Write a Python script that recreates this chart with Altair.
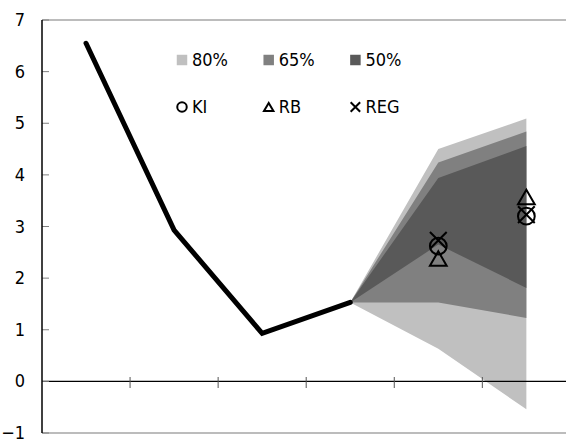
import altair as alt
import pandas as pd

# Observed series
periods = [0, 1, 2, 3]
actual = [6.55, 2.93, 0.93, 1.53]

# Forecast fan (starts at the last observed value)
fan_x = [3, 4, 5]
lo80 = [1.53, 0.63, -0.54]
hi80 = [1.53, 4.50, 5.09]
lo65 = [1.53, 1.53, 1.23]
hi65 = [1.53, 4.24, 4.84]
lo50 = [1.53, 2.65, 1.81]
hi50 = [1.53, 3.94, 4.56]

# Point forecasts from the three models
model_x = [4, 5]
ki = [2.62, 3.20]
rb = [2.38, 3.57]
reg = [2.73, 3.23]

# Horizontal axis tick positions (between periods) and vertical axis values
x_ticks = [0.5, 1.5, 2.5, 3.5, 4.5]
y_ticks = [-1, 0, 1, 2, 3, 4, 5, 6, 7]

band_labels = ["80%", "65%", "50%"]
band_colors = ["#c0c0c0", "#808080", "#595959"]
model_labels = ["KI", "RB", "REG"]
X_SHAPE = "M-1,-1L1,1M1,-1L-1,1"
model_shapes = ["circle", "triangle-up", X_SHAPE]

FONT = "DejaVu Sans Condensed, Liberation Sans Narrow, Liberation Sans, sans-serif"
FS = 18
W, H = 524, 413

xs = alt.Scale(domain=[-0.5, 5.45], nice=False, zero=False)
ys = alt.Scale(domain=[-1, 7], nice=False, zero=False)

X = lambda f: alt.X(f, type="quantitative", scale=xs, axis=None)
Y = lambda f: alt.Y(f, type="quantitative", scale=ys, axis=None)

fan = pd.DataFrame({"x": fan_x, "lo80": lo80, "hi80": hi80, "lo65": lo65,
                    "hi65": hi65, "lo50": lo50, "hi50": hi50})
base_fan = alt.Chart(fan)
bands = []
for lab, col in zip(band_labels, band_colors):
    k = lab.rstrip("%")
    bands.append(base_fan.mark_area(color=col, opacity=1).encode(
        x=X("x"), y=Y("lo" + k), y2=alt.Y2("hi" + k)))

# frame lines: top and bottom grey, zero line black
frame = alt.Chart(pd.DataFrame({"y": [7, -1]})).mark_rule(
    color="#a6a6a6", strokeWidth=1.5).encode(
    y=Y("y"), x=alt.value(0), x2=alt.value(W))
zero = alt.Chart(pd.DataFrame({"y": [0]})).mark_rule(
    color="black", strokeWidth=1.3).encode(
    y=Y("y"), x=alt.value(0), x2=alt.value(W))

# y axis: labels and inward ticks
yaxis_df = pd.DataFrame({"y": y_ticks})
ylabels = alt.Chart(yaxis_df).mark_text(
    font=FONT, fontSize=FS, align="right", baseline="middle", dx=-17, dy=1,
    color="black").encode(y=Y("y"), x=alt.value(0), text=alt.Text("y:Q"))
yticks = alt.Chart(yaxis_df).mark_rule(color="#808080", strokeWidth=1).encode(
    y=Y("y"), x=alt.value(0), x2=alt.value(7))
yline = alt.Chart(pd.DataFrame({"y": [-1], "y2": [7]})).mark_rule(
    color="black", strokeWidth=1.5).encode(x=alt.value(0), y=Y("y"), y2=alt.Y2("y2"))

# x ticks crossing the zero line
xtick_df = pd.DataFrame({"x": x_ticks})
xticks = alt.Chart(xtick_df).mark_rule(color="#555555", strokeWidth=1).encode(
    x=X("x"), y=alt.value(357), y2=alt.value(368))

line = alt.Chart(pd.DataFrame({"x": periods, "v": actual})).mark_line(
    color="black", strokeWidth=5, strokeCap="round", strokeJoin="miter").encode(
    x=X("x"), y=Y("v"))

pts = pd.DataFrame({
    "x": model_x * 3,
    "v": ki + rb + reg,
    "model": ["KI"] * 2 + ["RB"] * 2 + ["REG"] * 2,
})
model_pts = alt.Chart(pts).mark_point(
    filled=False, color="black", strokeWidth=2, size=280, opacity=1).encode(
    x=X("x"), y=Y("v"),
    shape=alt.Shape("model:N", scale=alt.Scale(domain=model_labels, range=model_shapes),
                    legend=None))

# legend block drawn inside the plot
leg_x0, leg_dx = 140, 86.7
sq = pd.DataFrame({"label": band_labels, "lx": [leg_x0 + leg_dx * i for i in range(3)]})
sym = pd.DataFrame({"label": model_labels, "lx": [leg_x0 + leg_dx * i for i in range(3)]})
leg_sq = alt.Chart(sq).mark_square(size=110, opacity=1).encode(
    x=alt.X("lx:Q", scale=None), y=alt.value(40),
    color=alt.Color("label:N", scale=alt.Scale(domain=band_labels, range=band_colors),
                    legend=None))
leg_sq_txt = alt.Chart(sq).mark_text(
    font=FONT, fontSize=FS, align="left", baseline="middle", dx=10, dy=1).encode(
    x=alt.X("lx:Q", scale=None), y=alt.value(40), text="label:N")
leg_sym = alt.Chart(sym).mark_point(
    filled=False, color="black", strokeWidth=2, size=90, opacity=1).encode(
    x=alt.X("lx:Q", scale=None), y=alt.value(87),
    shape=alt.Shape("label:N", scale=alt.Scale(domain=model_labels, range=model_shapes),
                    legend=None))
leg_sym_txt = alt.Chart(sym).mark_text(
    font=FONT, fontSize=FS, align="left", baseline="middle", dx=10, dy=1).encode(
    x=alt.X("lx:Q", scale=None), y=alt.value(87), text="label:N")

chart = alt.layer(
    *bands, frame, zero, xticks, yticks, yline, ylabels, line, model_pts,
    leg_sq, leg_sq_txt, leg_sym, leg_sym_txt,
).resolve_scale(shape="independent", color="independent").properties(
    width=W, height=H,
    padding={"left": 42, "top": 20, "right": 0, "bottom": 8},
    autosize=alt.AutoSizeParams(type="none"),
    background="white",
).configure_view(stroke=None)

chart.save("out.html", embed_options={"renderer": "svg", "actions": False})
